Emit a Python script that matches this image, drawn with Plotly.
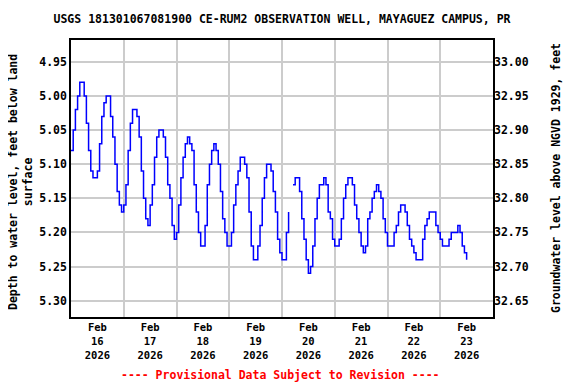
import pandas as pd
import plotly.graph_objects as go

# Hourly depth to water (feet below land surface), starting Feb 16 2026 00:00
start_time = "2026-02-16 00:00"
depth_ft = [
    5.08, 5.05, 5.02, 5.00, 4.98, 4.98, 5.00, 5.04, 5.08, 5.11, 5.12, 5.12,
    5.11, 5.07, 5.03, 5.01, 5.00, 5.00, 5.03, 5.06, 5.10, 5.14, 5.16, 5.17,
    5.16, 5.13, 5.08, 5.04, 5.02, 5.02, 5.03, 5.06, 5.11, 5.15, 5.18, 5.19,
    5.16, 5.13, 5.09, 5.06, 5.05, 5.05, 5.06, 5.09, 5.13, 5.15, 5.19, 5.21,
    5.20, 5.16, 5.12, 5.09, 5.07, 5.06, 5.07, 5.08, 5.13, 5.17, 5.20, 5.22,
    5.22, 5.19, 5.13, 5.10, 5.08, 5.07, 5.08, 5.10, 5.14, 5.18, 5.20, 5.22,
    5.22, 5.20, 5.16, 5.13, 5.11, 5.09, 5.09, 5.10, 5.12, 5.17, 5.22, 5.24,
    5.24, 5.22, 5.19, 5.15, 5.12, 5.10, 5.10, 5.11, 5.14, 5.17, 5.21, 5.23,
    5.24, 5.24, 5.20, 5.17, None, 5.13, 5.12, 5.12, 5.14, 5.18, 5.21, 5.24,
    5.26, 5.25, 5.22, 5.18, 5.15, 5.13, 5.13, 5.12, 5.13, 5.17, 5.18, 5.21,
    5.22, 5.22, 5.21, 5.18, 5.15, 5.13, 5.12, 5.12, 5.13, 5.16, 5.18, 5.20,
    5.22, 5.23, 5.22, 5.18, 5.17, 5.15, 5.14, 5.13, 5.14, 5.15, 5.18, 5.20,
    5.22, 5.22, 5.22, 5.20, 5.19, 5.17, 5.16, 5.16, 5.17, 5.19, 5.21, 5.22,
    5.23, 5.24, 5.24, 5.24, 5.21, 5.19, 5.18, 5.17, 5.17, 5.17, 5.19, 5.20,
    5.21, 5.22, 5.22, 5.22, 5.21, 5.20, 5.20, 5.20, 5.19, 5.20, 5.22, 5.23,
    5.24,
]

day_labels = ["Feb<br>16<br>2026", "Feb<br>17<br>2026", "Feb<br>18<br>2026",
              "Feb<br>19<br>2026", "Feb<br>20<br>2026", "Feb<br>21<br>2026",
              "Feb<br>22<br>2026", "Feb<br>23<br>2026"]
day_label_times = ["2026-02-16 12:00", "2026-02-17 12:00", "2026-02-18 12:00",
                   "2026-02-19 12:00", "2026-02-20 12:00", "2026-02-21 12:00",
                   "2026-02-22 12:00", "2026-02-23 12:00"]
left_ticks = [4.95, 5.00, 5.05, 5.10, 5.15, 5.20, 5.25, 5.30]
right_ticks = [32.65, 32.70, 32.75, 32.80, 32.85, 32.90, 32.95, 33.00]
datum_offset = 37.95  # elevation = offset - depth

title_text = "USGS 181301067081900 CE-RUM2 OBSERVATION WELL, MAYAGUEZ CAMPUS, PR"
left_title = "Depth to water level, feet below land<br>surface"
right_title = "Groundwater level above NGVD 1929, feet"
footer_text = "---- Provisional Data Subject to Revision ----"

times = pd.date_range(start_time, periods=len(depth_ft), freq="h")

y_range = [5.324, 4.918]
FONT = "DejaVu Sans Mono"

# page body has an 8px margin; compensate so the chart lands where the reference has it
OFF = 8
W, H = 576 - OFF, 384 - OFF
PL, PT, PW, PH = 71 - OFF, 40 - OFF, 422, 277


def px_x(x):
    return (x - 71) / PW


def px_y(y):
    return (317 - y) / PH


fig = go.Figure()
fig.add_trace(go.Scatter(
    x=times, y=depth_ft, mode="lines", line=dict(color="#0000ff", width=1.5, shape="hv"),
    connectgaps=False, showlegend=False, hoverinfo="skip",
))
# invisible trace on right axis
fig.add_trace(go.Scatter(
    x=[times[0]], y=[datum_offset - depth_ft[0]], yaxis="y2", mode="lines",
    line=dict(width=0), showlegend=False, hoverinfo="skip",
))

fig.update_layout(
    width=W, height=H,
    margin=dict(l=PL, r=W - PL - PW, t=PT, b=H - PT - PH, autoexpand=False),
    paper_bgcolor="white", plot_bgcolor="white",
    font=dict(family=FONT, size=11.5, color="black", weight="bold"),
    title=dict(text=title_text, x=0.5, xref="paper", y=1 - (19 - OFF) / H, yref="container",
               yanchor="middle", xanchor="center",
               font=dict(family=FONT, size=11.5, color="black", weight="bold")),
    xaxis=dict(
        range=["2026-02-16 00:00", "2026-02-24 00:00"],
        tickmode="array", tickvals=day_label_times, ticktext=day_labels,
        showgrid=False, ticks="", showline=True, linecolor="black", linewidth=1.5,
        mirror=True, zeroline=False,
        tickfont=dict(family=FONT, size=10.5, weight="bold"),
        minor=dict(dtick=86400000, tick0="2026-02-16", showgrid=True,
                   gridcolor="#cccccc", gridwidth=1.5, ticks=""),
    ),
    yaxis=dict(
        range=y_range, tickmode="array", tickvals=left_ticks, tickformat=".2f",
        showgrid=True, gridcolor="#cccccc", gridwidth=1.5, ticks="",
        showline=True, linecolor="black", linewidth=1.5, mirror=True, zeroline=False,
        tickfont=dict(family=FONT, size=11.5, weight="bold"),
    ),
    yaxis2=dict(
        range=[datum_offset - y_range[0], datum_offset - y_range[1]],
        overlaying="y", side="right", tickmode="array", tickvals=right_ticks,
        tickformat=".2f", showgrid=False, ticks="", zeroline=False,
        tickfont=dict(family=FONT, size=11.5, weight="bold"),
    ),
)

fig.add_annotation(text=left_title, xref="paper", yref="paper",
                   x=px_x(20), y=px_y(182), textangle=-90,
                   showarrow=False, xanchor="center", yanchor="middle",
                   font=dict(family=FONT, size=11.5, weight="bold"))
fig.add_annotation(text=right_title, xref="paper", yref="paper",
                   x=px_x(556), y=px_y(178), textangle=-90,
                   showarrow=False, xanchor="center", yanchor="middle",
                   font=dict(family=FONT, size=11.5, weight="bold"))
fig.add_annotation(text=footer_text, xref="paper", yref="paper",
                   x=px_x(280), y=px_y(375),
                   showarrow=False, xanchor="center", yanchor="middle",
                   font=dict(family=FONT, size=11.5, color="red", weight="bold"))

fig.write_html("out.html")
